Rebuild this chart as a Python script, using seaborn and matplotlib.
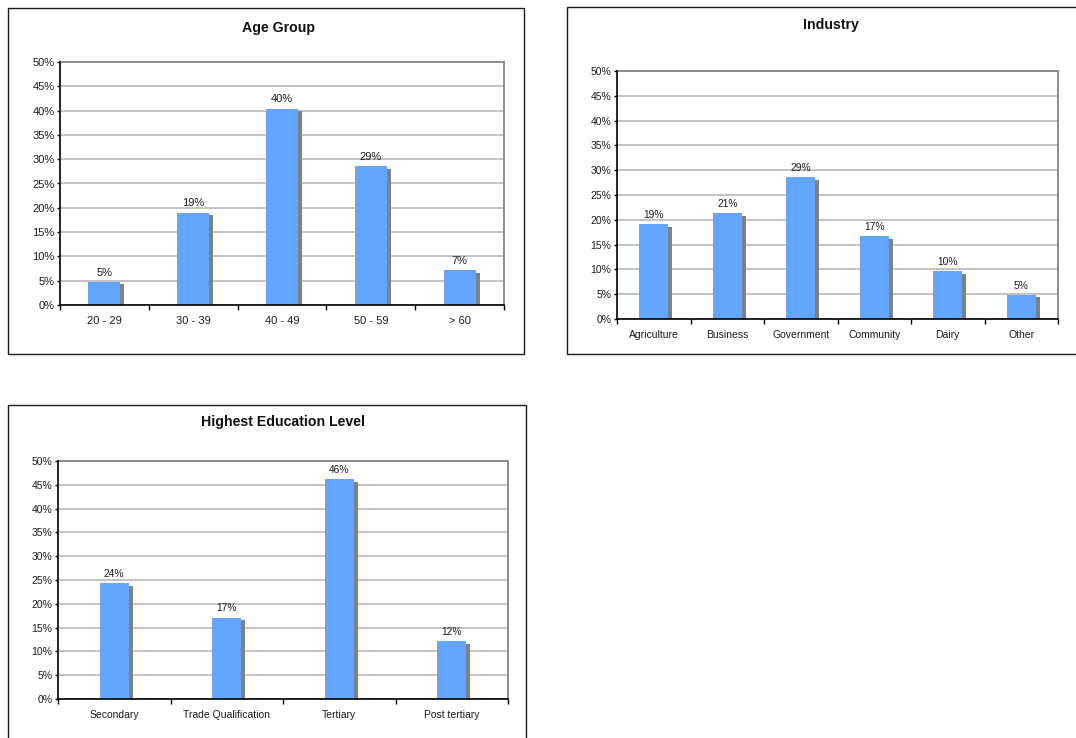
import matplotlib
matplotlib.use("Agg")
import matplotlib.pyplot as plt
import matplotlib.transforms as mtransforms
from matplotlib.patches import Rectangle
import seaborn as sns
import pandas as pd
import numpy as np

# ---- data ----
age_groups = ["20 - 29", "30 - 39", "40 - 49", "50 - 59", "> 60"]
age_values = [4.8, 19.0, 40.4, 28.6, 7.2]

industries = ["Agriculture", "Business", "Government", "Community", "Dairy", "Other"]
industry_values = [19.1, 21.4, 28.6, 16.7, 9.7, 4.9]

education = ["Secondary", "Trade Qualification", "Tertiary", "Post tertiary"]
education_values = [24.4, 17.1, 46.2, 12.2]

y_ticks = [0, 5, 10, 15, 20, 25, 30, 35, 40, 45, 50]

sns.set_theme(style="white")
plt.rcParams['font.family'] = ['Liberation Sans', 'DejaVu Sans']

W, H = 1076, 738
fig = plt.figure(figsize=(W / 100, H / 100), dpi=100)

BLUE = "#62A6FF"
SHADOW = "#808080"
GRID = "#B8B8B8"


def px_rect(x0, y0, x1, y1):
    return [x0 / W, 1 - y1 / H, (x1 - x0) / W, (y1 - y0) / H]


def frame(x0, y0, x1, y1):
    fig.patches.append(Rectangle((x0 / W, 1 - y1 / H), (x1 - x0) / W, (y1 - y0) / H,
                                 transform=fig.transFigure, fill=False,
                                 edgecolor="#1a1a1a", linewidth=1.0))


def panel(rect, cats, vals, title, title_xy, width, fs, lfs):
    ax = fig.add_axes(px_rect(*rect))
    df = pd.DataFrame({"cat": cats, "val": vals})
    # shadow bars
    sns.barplot(data=df, x="cat", y="val", order=cats, color=SHADOW, width=width,
                saturation=1, ax=ax, zorder=2, errorbar=None)
    shift = mtransforms.ScaledTranslation(4 / 100, -2.7 / 100, fig.dpi_scale_trans)
    for p in list(ax.patches):
        p.set_transform(ax.transData + shift)
        p.set_edgecolor("none")
    # main bars
    sns.barplot(data=df, x="cat", y="val", order=cats, color=BLUE, width=width,
                saturation=1, ax=ax, zorder=3, errorbar=None)
    for p in ax.containers[-1]:
        p.set_edgecolor("none")
    ax.bar_label(ax.containers[-1], labels=[f"{round(v)}%" for v in vals],
                 padding=3, fontsize=lfs, color="#1a1a1a")

    n = len(cats)
    ax.set_xlim(-0.5, n - 0.5)
    ax.set_ylim(0, 50)
    ax.set_yticks(y_ticks)
    ax.set_yticklabels([f"{t}%" for t in y_ticks])
    ax.set_xticks(range(n))
    ax.set_xticklabels(cats)
    ax.set_xticks(np.arange(-0.5, n, 1.0), minor=True)
    ax.tick_params(axis="x", which="major", length=0, pad=8, labelsize=fs, labelcolor="#1a1a1a")
    ax.tick_params(axis="x", which="minor", length=3.5, width=1, direction="out",
                   bottom=True, color="black")
    ax.tick_params(axis="y", length=2.5, width=1, direction="out", pad=1.5,
                   left=True, labelsize=fs, color="black", labelcolor="#1a1a1a")
    ax.set_xlabel("")
    ax.set_ylabel("")
    ax.yaxis.grid(True, color=GRID, linewidth=1.2, zorder=0)
    ax.set_axisbelow(True)
    for s in ["left", "bottom"]:
        ax.spines[s].set_color("black")
        ax.spines[s].set_linewidth(1.2)
        ax.spines[s].set_zorder(5)
    for s in ["top", "right"]:
        ax.spines[s].set_color("#8c8c8c")
        ax.spines[s].set_linewidth(1.4)
    fig.text(title_xy[0] / W, 1 - title_xy[1] / H, title, ha="center", va="center",
             fontsize=10.2, fontweight="bold", color="#111111")
    return ax


# frames
frame(8, 8, 524, 354)
frame(567, 7, 1085, 354)
frame(8, 405, 526, 750)

panel((60, 62, 504, 305), age_groups, age_values, "Age Group", (279, 28), 0.36, 8.0, 8.0)
panel((617, 71, 1058, 319), industries, industry_values, "Industry", (831, 25), 0.40, 7.5, 7.4)
panel((58, 461, 508, 699), education, education_values, "Highest Education Level", (283, 422), 0.26, 7.5, 7.4)

fig.savefig("out.png", dpi=100, facecolor="white")
